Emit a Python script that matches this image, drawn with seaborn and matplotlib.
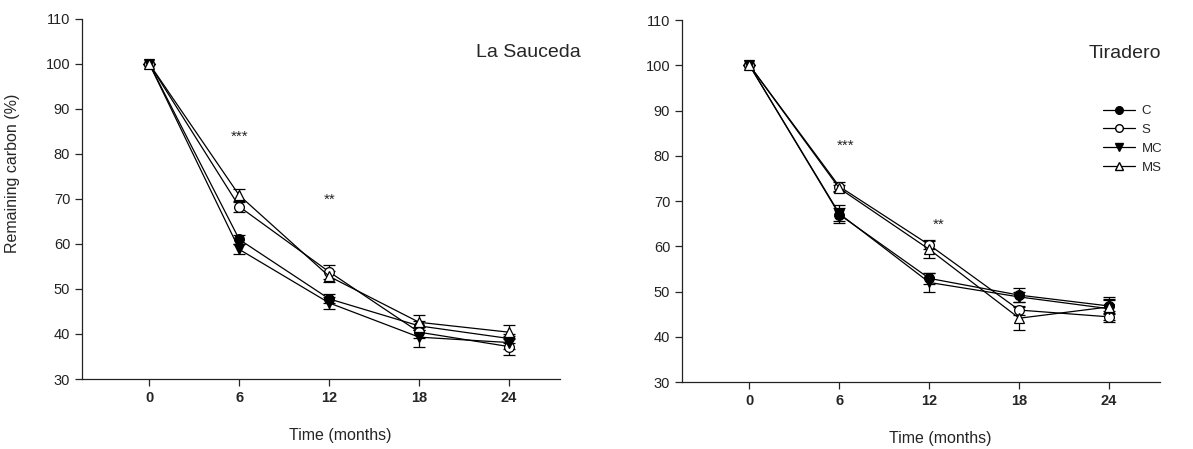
"""Carbone restant dans la litière : La Sauceda vs Tiradero."""

import matplotlib
matplotlib.use("Agg")
import matplotlib.pyplot as plt
import seaborn as sns
from matplotlib.lines import Line2D

months = [0, 6, 12, 18, 24]
treatments = ["C", "S", "MC", "MS"]

# La Sauceda
sauceda_mean = {
    "C": [100, 61.0, 47.8, 41.8, 39.0],
    "S": [100, 68.3, 53.8, 40.4, 37.2],
    "MC": [100, 58.8, 46.9, 39.3, 38.1],
    "MS": [100, 70.8, 52.8, 42.6, 40.4],
}
sauceda_err = {
    "C": [0, 1.0, 1.0, 1.0, 1.0],
    "S": [0, 1.3, 1.5, 1.2, 1.8],
    "MC": [0, 1.1, 1.3, 2.2, 1.5],
    "MS": [0, 1.5, 1.3, 1.7, 1.5],
}

# Tiradero
tiradero_mean = {
    "C": [100, 67.0, 52.9, 49.2, 46.8],
    "S": [100, 73.2, 60.3, 45.9, 44.4],
    "MC": [100, 67.2, 52.0, 48.8, 46.2],
    "MS": [100, 72.8, 59.3, 44.1, 46.6],
}
tiradero_err = {
    "C": [0, 1.5, 1.2, 1.5, 1.5],
    "S": [0, 0.9, 0.8, 1.0, 1.2],
    "MC": [0, 2.0, 2.2, 1.2, 2.5],
    "MS": [0, 0.8, 2.0, 2.5, 1.5],
}

# significance marks (month, value, text)
sauceda_stars = [(6, 83.8, "***"), (12, 69.8, "**")]
tiradero_stars = [(6.4, 82.2, "***"), (12.6, 64.7, "**")]

STYLE = {
    "C": dict(marker="o", mfc="black"),
    "S": dict(marker="o", mfc="white"),
    "MC": dict(marker="v", mfc="black"),
    "MS": dict(marker="^", mfc="white"),
}

sns.set_style("ticks")
plt.rcParams["font.family"] = ["Liberation Sans", "DejaVu Sans"]


def draw_panel(ax, means, errs, stars, title, title_x):
    for t in treatments:
        st = STYLE[t]
        ax.errorbar(months, means[t], yerr=errs[t], fmt="none", ecolor="black",
                    elinewidth=0.9, capsize=4, capthick=0.9, zorder=2)
        sns.lineplot(x=months, y=means[t], ax=ax, color="black", lw=0.9,
                     marker=st["marker"], markersize=7, markerfacecolor=st["mfc"],
                     markeredgecolor="black", markeredgewidth=0.9, zorder=3,
                     legend=False)
    for x, y, s in stars:
        ax.text(x, y, s, ha="center", va="center", fontsize=11)
    ax.text(title_x, 102.5, title, ha="left", va="center", fontsize=14,
            clip_on=False)
    ax.set_xlim(-4.5, 27.4)
    ax.set_ylim(30, 110)
    ax.set_xticks(months)
    ax.set_yticks(range(30, 111, 10))
    ax.set_xticklabels([str(m) for m in months], fontweight="bold", fontsize=10.5)
    ax.tick_params(axis="y", labelsize=10.5, labelcolor="#222222")
    ax.tick_params(length=5, width=0.9, direction="out")
    ax.set_xlabel("Time (months)", fontsize=11.5)
    ax.xaxis.set_label_coords(0.54, -0.135)
    ax.set_ylabel("")
    for sp in ("left", "bottom"):
        ax.spines[sp].set_linewidth(0.9)
        ax.spines[sp].set_color("#222222")
    sns.despine(ax=ax)


fig = plt.figure(figsize=(11.93, 4.49), dpi=100)
ax1 = fig.add_axes([0.0687, 0.1559, 0.4007, 0.8018])
ax2 = fig.add_axes([0.5717, 0.1492, 0.4007, 0.8062])

draw_panel(ax1, sauceda_mean, sauceda_err, sauceda_stars, "La Sauceda", 21.8)
draw_panel(ax2, tiradero_mean, tiradero_err, tiradero_stars, "Tiradero", 22.6)

ax1.set_ylabel("Remaining carbon (%)", fontsize=11.5)
ax1.yaxis.set_label_coords(-0.13, 0.57)

handles = [
    Line2D([], [], color="black", lw=0.9, marker=STYLE[t]["marker"], markersize=5.5,
           markerfacecolor=STYLE[t]["mfc"], markeredgecolor="black", label=t)
    for t in treatments
]
ax2.legend(handles=handles, loc="upper left", bbox_to_anchor=(0.87, 0.78),
           frameon=False, fontsize=9.5, handlelength=2.4, handletextpad=0.5,
           labelspacing=0.5, borderaxespad=0)

fig.savefig("out.png", dpi=100)
